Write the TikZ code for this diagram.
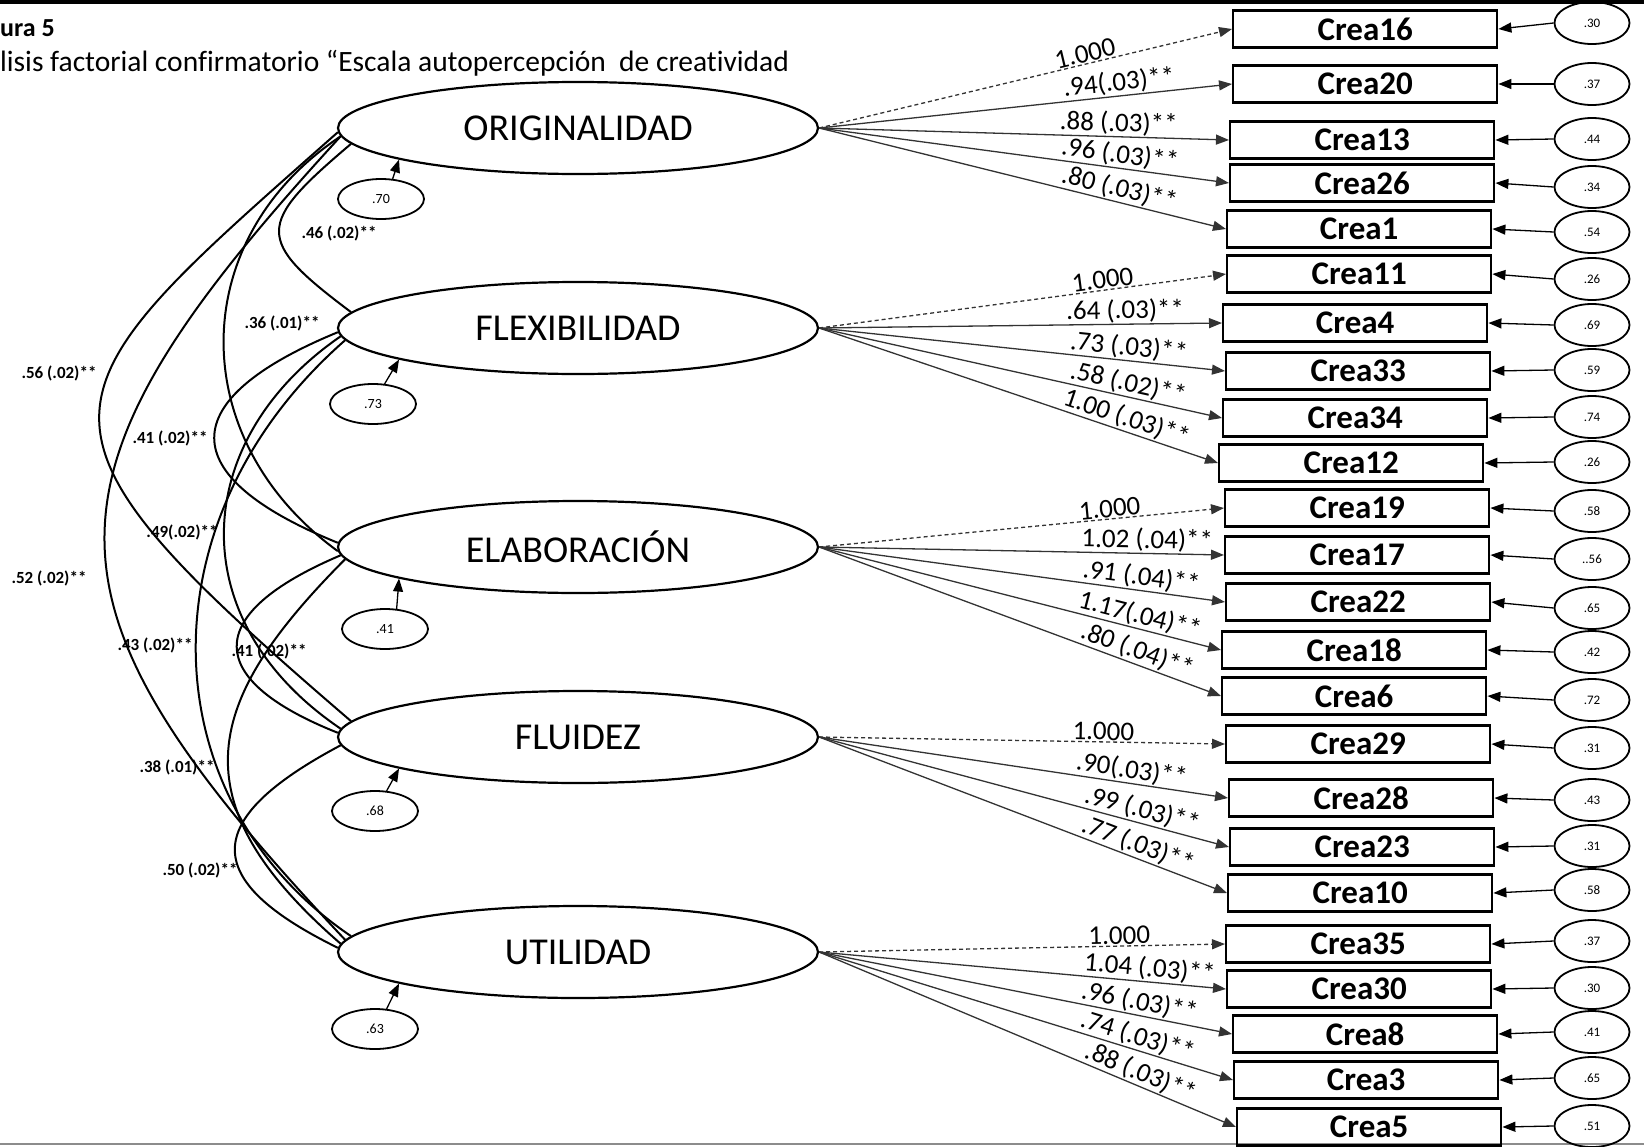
\documentclass[tikz,border=0pt]{standalone}
\usepackage{fontspec}
\setmainfont{Carlito}[Ligatures=NoCommon]
\usepackage{tikz}
\usetikzlibrary{arrows.meta,positioning,calc,shapes.geometric}

\newcommand{\fsz}[1]{\fontsize{#1pt}{#1pt}\selectfont}

\begin{document}
\begin{tikzpicture}[
  x=1pt, y=-1pt, >={Triangle[length=13pt,width=10pt]},
  lat/.style={draw, ellipse, line width=2.2pt, minimum width=480pt, minimum height=92pt, font=\fsz{38}},
  obs/.style={draw, line width=2.4pt, minimum width=264pt, minimum height=37pt, inner sep=0pt, font=\fsz{33}\bfseries},
  err/.style={draw, ellipse, line width=1.8pt, minimum width=75pt, minimum height=42pt, inner sep=0pt, font=\fsz{13}},
  dist/.style={err, minimum width=86pt, minimum height=40pt, font=\fsz{14}},
  ld/.style={->, line width=1.3pt, black!80},
  ldfix/.style={ld, dash pattern=on 4pt off 3pt},
  lbl/.style={sloped, above, inner sep=1pt, font=\fsz{27}, text=black},
  cov/.style={line width=2pt},
  cvl/.style={inner sep=0pt, font=\fsz{17}\bfseries}
]
\useasboundingbox (0,0) rectangle (1644,1146);
\draw[line width=3.5pt] (0,1.75) -- (1644,1.75);
\draw[black!45, line width=1.5pt] (0,1144) -- (1644,1144);

% heading
\node[anchor=west, inner sep=0pt, font=\fsz{26}\bfseries] (fig) at (0,28) {ura 5};
\node[anchor=west, inner sep=0pt, font=\fsz{29.5}] (cap) at (0,63)
  {lisis factorial confirmatorio “Escala autopercepción\ \ de creatividad};

% factors
\node[lat] (orig) at (578,128) {ORIGINALIDAD};
\node[lat] (flex) at (578,328) {FLEXIBILIDAD};
\node[lat] (elab) at (578,547) {ELABORACIÓN};
\node[lat] (flu)  at (578,737) {FLUIDEZ};
\node[lat] (util) at (578,952) {UTILIDAD};

\foreach \f/\x/\y/\v in {orig/381/199/.70, flex/373/404/.73, elab/385/629/.41,
                         flu/375/811/.68, util/375/1029/.63}{
  \node[dist] (d\f) at (\x,\y) {\v};
  \draw[->, line width=1.3pt] (d\f.60) -- (\f.190);
}

% items: number / left x / centre y / error y / error
\foreach \n/\lx/\cy/\ey/\ev in {16/1232/29/23/.30, 20/1232/84/84/.37, 13/1229/140/139/.44,
    26/1229/183/187/.34, 1/1226/229/232/.54, 11/1226/274/279/.26, 4/1222/323/325/.69,
    33/1225/371/370/.59, 34/1222/418/417/.74, 12/1218/463/462/.26, 19/1224/508/511/.58,
    17/1224/555/559/..56, 22/1225/602/608/.65, 18/1221/650/652/.42, 6/1221/696/700/.72,
    29/1225/744/748/.31, 28/1228/798/800/.43, 23/1229/847/846/.31, 10/1227/893/890/.58,
    35/1225/944/941/.37, 30/1226/989/988/.30, 8/1232/1034/1032/.41, 3/1233/1080/1078/.65,
    5/1236/1127/1126/.51}{
  \node[obs, anchor=west] (c\n) at (\lx,\cy) {Crea\n};
  \node[err] (e\n) at (1592,\ey) {\ev};
  \draw[->, line width=1.3pt] (e\n.west) -- (c\n.east);
}

% loadings
\foreach \f/\n/\s/\p/\t in {
    orig/16/ldfix/.65/1.000, orig/20/ld/.73/{.94(.03)**}, orig/13/ld/.73/{.88 (.03)**},
    orig/26/ld/.73/{.96 (.03)**}, orig/1/ld/.73/{.80 (.03)**},
    flex/11/ldfix/.70/1.000, flex/4/ld/.76/{.64 (.03)**}, flex/33/ld/.76/{.73 (.03)**},
    flex/34/ld/.76/{.58 (.02)**}, flex/12/ld/.76/{1.00 (.03)**},
    elab/19/ldfix/.72/1.000, elab/17/ld/.81/{1.02 (.04)**}, elab/22/ld/.79/{.91 (.04)**},
    elab/18/ld/.79/{1.17(.04)**}, elab/6/ld/.78/{.80 (.04)**},
    flu/29/ldfix/.70/1.000, flu/28/ld/.76/{.90(.03)**}, flu/23/ld/.78/{.99 (.03)**},
    flu/10/ld/.77/{.77 (.03)**},
    util/35/ldfix/.74/1.000, util/30/ld/.81/{1.04 (.03)**}, util/8/ld/.77/{.96 (.03)**},
    util/3/ld/.76/{.74 (.03)**}, util/5/ld/.76/{.88 (.03)**}}
  \draw[\s] (\f.east) -- node[lbl, pos=\p] {\t} (c\n.west);

% covariances
\draw[cov] (orig.184) .. controls (255,225) and (255,240) .. (flex.176);
\draw[cov] (orig.182) .. controls (185,240) and (185,440) .. (elab.181);
\draw[cov] (orig.181) .. controls (35,400) and (0,420) .. (flu.176);
\draw[cov] (orig.182) .. controls (25,480) and (25,600) .. (util.177);
\draw[cov] (flex.181) .. controls (173,400) and (173,476) .. (elab.179);
\draw[cov] (flex.182) .. controls (190,440) and (180,620) .. (flu.178);
\draw[cov] (flex.183) .. controls (140,520) and (150,800) .. (util.176);
\draw[cov] (elab.182) .. controls (200,615) and (205,680) .. (flu.179);
\draw[cov] (elab.183) .. controls (205,700) and (175,800) .. (util.178);
\draw[cov] (flu.182) .. controls (200,820) and (200,880) .. (util.179);

\node[cvl] (k1)  at (339,233) {.46 (.02)**};
\node[cvl] (k2)  at (282,323) {.36 (.01)**};
\node[cvl] (k3)  at (59,373)  {.56 (.02)**};
\node[cvl] (k4)  at (170,438) {.41 (.02)**};
\node[cvl] (k5)  at (182,532) {.49(.02)**};
\node[cvl] (k6)  at (49,578)  {.52 (.02)**};
\node[cvl] (k7)  at (155,645) {.43 (.02)**};
\node[cvl] (k8)  at (269,651) {.41 (.02)**};
\node[cvl] (k9)  at (177,767) {.38 (.01)**};
\node[cvl] (k10) at (200,870) {.50 (.02)**};
\end{tikzpicture}
\end{document}
